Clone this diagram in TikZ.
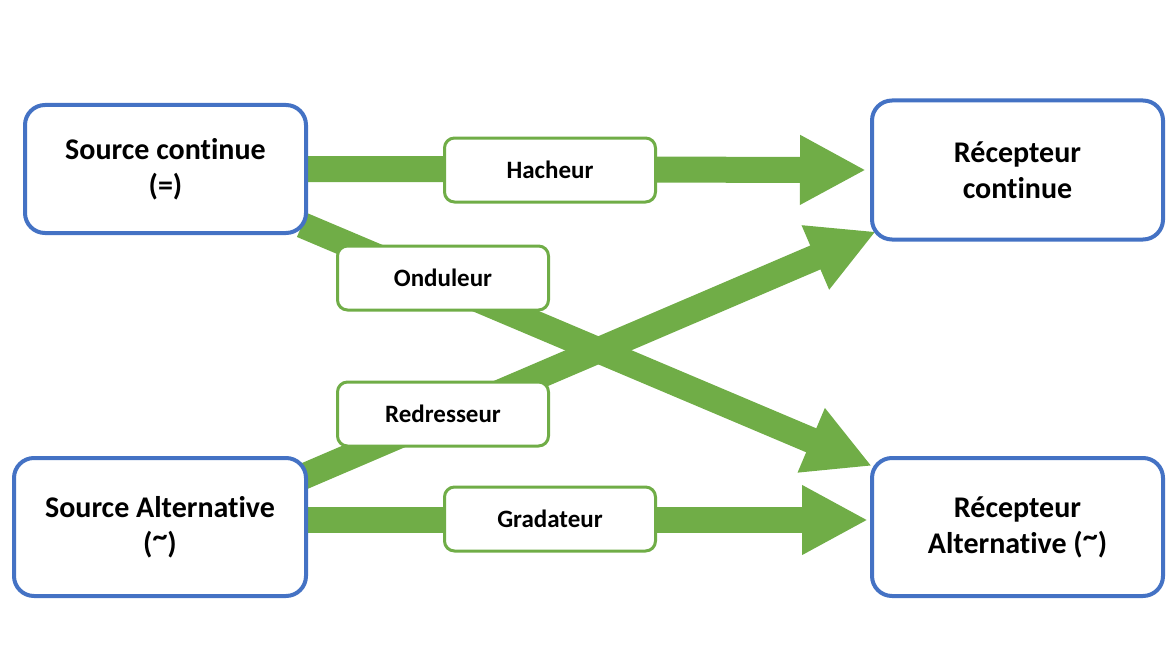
\documentclass[tikz,border=0pt]{standalone}
\usepackage{fontspec}
\setmainfont{Carlito}[RawFeature=-liga]
\usetikzlibrary{arrows.meta,backgrounds,calc}
\definecolor{ogreen}{HTML}{70AD47}
\definecolor{oblue}{HTML}{4472C4}
\newcommand{\hightilde}{\raisebox{0.45ex}{\char`~}}
\tikzset{
  mainbox/.style={draw=oblue, line width=4pt, rounded corners=20pt, fill=white,
    align=center, inner sep=0pt, font=\fontsize{30}{36}\selectfont\bfseries},
  convbox/.style={draw=ogreen, line width=3pt, rounded corners=10pt, fill=white,
    align=center, inner sep=0pt, minimum width=211pt, minimum height=64pt,
    font=\fontsize{25}{30}\selectfont\bfseries},
  bigarrow/.style={draw=ogreen, line width=26pt,
    -{Triangle[length=66pt,width=65pt]}}
}
\begin{document}
\begin{tikzpicture}[x=1pt,y=-1pt]
\useasboundingbox (0,0) rectangle (1166,650);
% main boxes
\node[mainbox, minimum width=281pt, minimum height=128pt] (sc) at (165.5,169) {Source continue\\(=)};
\node[mainbox, minimum width=291pt, minimum height=139pt] (rc) at (1017.5,170) {Récepteur\\continue};
\node[mainbox, minimum width=292pt, minimum height=138pt] (sa) at (160,527) {Source Alternative\\(\hightilde)};
\node[mainbox, minimum width=291pt, minimum height=138pt] (ra) at (1017.5,527) {Récepteur\\Alternative (\hightilde)};
% converter boxes
\node[convbox] (hach) at (550,170) {Hacheur};
\node[convbox] (ond) at (443,278) {Onduleur};
\node[convbox] (red) at (443,414) {Redresseur};
\node[convbox] (grad) at (550,519) {Gradateur};
% arrows
\begin{scope}[on background layer]
\draw[bigarrow] (sc.east) -- ($(rc.west)+(-4,0)$);
\draw[bigarrow] ($(sc.south east)+(-6,-10)$) -- ($(ra.north west)+(2,10)$);
\draw[bigarrow] ($(sa.north east)+(-8,22)$) -- ($(rc.south west)+(6,-10)$);
\draw[bigarrow] ($(sa.east)+(0,-7)$) -- ($(ra.west)+(-2,-7)$);
\end{scope}
\end{tikzpicture}
\end{document}
